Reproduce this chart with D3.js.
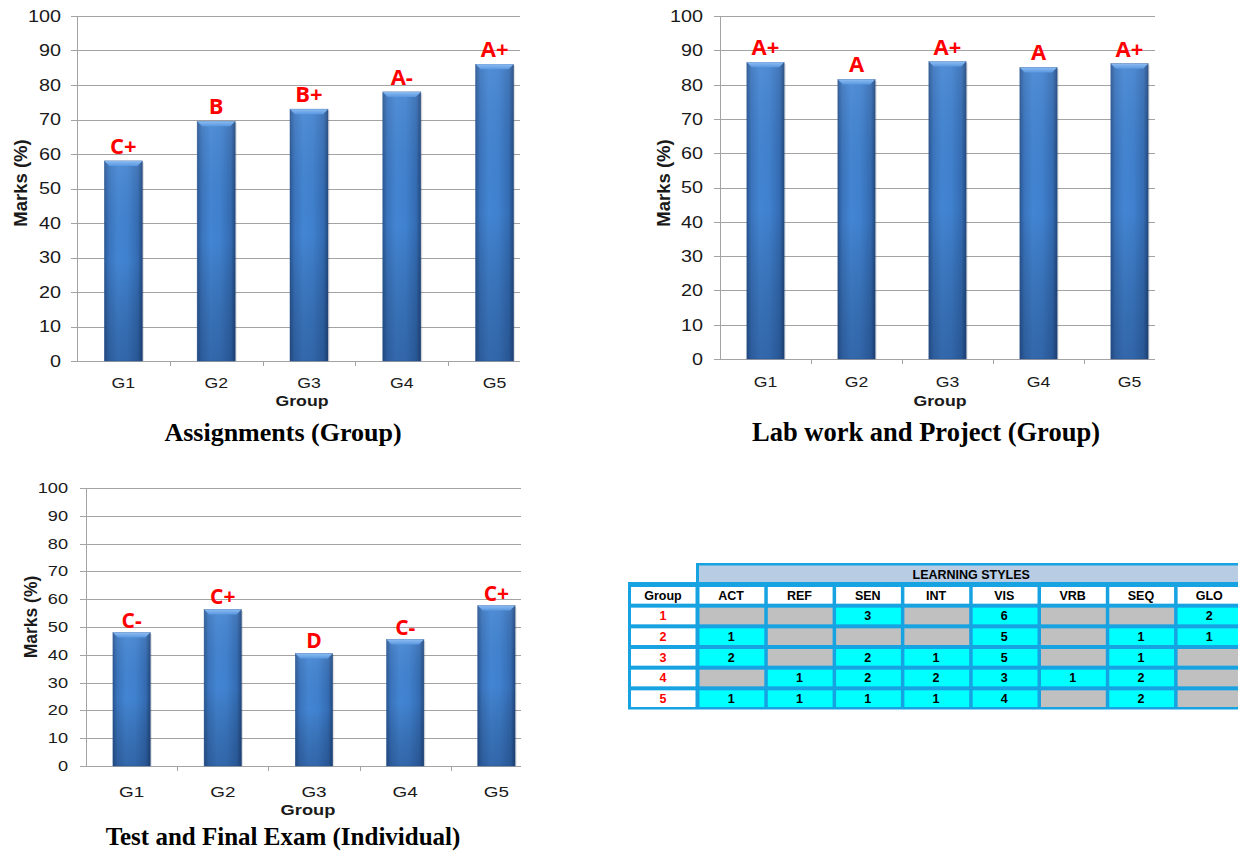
<!DOCTYPE html>
<html>
<head>
<meta charset="utf-8">
<script src="https://cdn.jsdelivr.net/npm/d3@7"></script>
<style>
  html, body { margin: 0; padding: 0; background: #ffffff; }
  svg { display: block; }
</style>
</head>
<body>
<svg id="chart" width="1238" height="851"></svg>
<script>
// ---------------- DATA ----------------
const groups = ['G1', 'G2', 'G3', 'G4', 'G5'];
const yTicks = [0, 10, 20, 30, 40, 50, 60, 70, 80, 90, 100];

const assignMarks = [58, 69.5, 73, 78, 86];
const assignGrades = ['C+', 'B', 'B+', 'A-', 'A+'];

const labMarks = [86.5, 81.5, 86.7, 85, 86.1];
const labGrades = ['A+', 'A', 'A+', 'A', 'A+'];

const examMarks = [48, 56.3, 40.5, 45.5, 57.7];
const examGrades = ['C-', 'C+', 'D', 'C-', 'C+'];

const chartTitles = ['Assignments (Group)', 'Lab work and Project (Group)', 'Test and Final Exam (Individual)'];

const styles = ['ACT', 'REF', 'SEN', 'INT', 'VIS', 'VRB', 'SEQ', 'GLO'];
const tableGroups = ['1', '2', '3', '4', '5'];
const group1Counts = [null, null, 3, null, 6, null, null, 2];
const group2Counts = [1, null, null, null, 5, null, 1, 1];
const group3Counts = [2, null, 2, 1, 5, null, 1, null];
const group4Counts = [null, 1, 2, 2, 3, 1, 2, null];
const group5Counts = [1, 1, 1, 1, 4, null, 2, null];
const styleCounts = [group1Counts, group2Counts, group3Counts, group4Counts, group5Counts];

// ---------------- SETUP ----------------
const svg = d3.select('#chart');
const defs = svg.append('defs');

const gH = defs.append('linearGradient').attr('id', 'barH').attr('x1', 0).attr('x2', 1).attr('y1', 0).attr('y2', 0);
[[0, '#2a5895'], [0.12, '#3a74bd'], [0.35, '#4385d3'], [0.6, '#4081cf'], [0.88, '#346cb3'], [1, '#22497f']]
  .forEach(([o, c]) => gH.append('stop').attr('offset', o).attr('stop-color', c));

const gV = defs.append('linearGradient').attr('id', 'barV').attr('x1', 0).attr('x2', 0).attr('y1', 0).attr('y2', 1);
[[0, 'rgba(255,255,255,0.08)'], [0.5, 'rgba(0,0,0,0)'], [1, 'rgba(10,30,70,0.28)']]
  .forEach(([o, c]) => gV.append('stop').attr('offset', o).attr('stop-color', c));

const gTop = defs.append('linearGradient').attr('id', 'barTop').attr('x1', 0).attr('x2', 0).attr('y1', 0).attr('y2', 1);
[[0, '#8cbcf2'], [1, '#5a98e0']].forEach(([o, c]) => gTop.append('stop').attr('offset', o).attr('stop-color', c));

const tickFont = '"Liberation Sans", Arial, sans-serif';

function drawChart(cfg) {
  const g = svg.append('g');
  const x = d3.scaleBand().domain(groups).range([cfg.left, cfg.bandRight]).paddingInner(0.59).paddingOuter(0.295);
  const xTicks = d3.scaleBand().domain(groups).range([cfg.left, cfg.bandRight]);
  const y = d3.scaleLinear().domain([0, 100]).range([cfg.bottom, cfg.top]);

  // gridlines
  g.append('g').selectAll('line').data(yTicks).join('line')
    .attr('x1', cfg.left - 6).attr('x2', cfg.gridRight)
    .attr('y1', d => Math.round(y(d)) + 0.5).attr('y2', d => Math.round(y(d)) + 0.5)
    .attr('stroke', '#a3a3a3').attr('stroke-width', 1);

  // y axis line
  g.append('line').attr('x1', cfg.left + 0.5).attr('x2', cfg.left + 0.5)
    .attr('y1', y(100)).attr('y2', y(0)).attr('stroke', '#a3a3a3');

  // x tick marks at band boundaries
  g.append('g').selectAll('line').data(groups.slice(1)).join('line')
    .attr('x1', d => Math.round(xTicks(d)) + 0.5).attr('x2', d => Math.round(xTicks(d)) + 0.5)
    .attr('y1', y(0)).attr('y2', y(0) + 5).attr('stroke', '#a3a3a3');

  // y tick labels (horizontally stretched like the original)
  g.append('g').selectAll('text').data(yTicks).join('text')
    .attr('transform', d => `translate(${cfg.left - cfg.tickGap},${y(d)}) scale(${cfg.tickStretch},1)`)
    .attr('dy', '0.36em').attr('text-anchor', 'end')
    .attr('font-family', tickFont).attr('font-size', cfg.tickSize).attr('fill', '#1a1a1a')
    .text(d => d);

  // x tick labels
  g.append('g').selectAll('text').data(groups).join('text')
    .attr('transform', d => `translate(${x(d) + x.bandwidth() / 2},${cfg.xLabelY}) scale(1.22,1)`)
    .attr('text-anchor', 'middle')
    .attr('font-family', tickFont).attr('font-size', cfg.xSize).attr('fill', '#1a1a1a')
    .text(d => d);

  // bars
  const data = groups.map((gname, i) => ({ g: gname, v: cfg.values[i], grade: cfg.grades[i] }));
  const bars = g.append('g').selectAll('g').data(data).join('g');
  const bw = x.bandwidth();
  bars.append('rect')
    .attr('x', d => x(d.g) + 1.5).attr('y', d => y(d.v) + 1.5)
    .attr('width', bw).attr('height', d => y(0) - y(d.v) - 1.5)
    .attr('fill', 'rgba(0,0,0,0.12)');
  bars.append('rect')
    .attr('x', d => x(d.g)).attr('y', d => y(d.v))
    .attr('width', bw).attr('height', d => y(0) - y(d.v))
    .attr('fill', 'url(#barH)');
  bars.append('rect')
    .attr('x', d => x(d.g)).attr('y', d => y(d.v))
    .attr('width', bw).attr('height', d => y(0) - y(d.v))
    .attr('fill', 'url(#barV)')
    .attr('stroke', '#26508a').attr('stroke-width', 0.6).attr('stroke-opacity', 0.7);
  const bev = 5;
  bars.append('path')
    .attr('d', d => {
      const x0 = x(d.g), x1 = x0 + bw, y0 = y(d.v);
      return `M${x0},${y0}L${x1},${y0}L${x1 - bev},${y0 + bev}L${x0 + bev},${y0 + bev}Z`;
    })
    .attr('fill', 'url(#barTop)');

  // grade labels
  bars.append('text')
    .attr('x', d => x(d.g) + bw / 2).attr('y', d => y(d.v) - cfg.gradeGap)
    .attr('text-anchor', 'middle')
    .attr('font-family', '"Open Sans", "Noto Sans", sans-serif').attr('font-weight', 'bold')
    .attr('font-size', cfg.gradeSize).attr('fill', '#ff0000')
    .text(d => d.grade);

  // axis titles
  g.append('text')
    .attr('transform', `translate(${cfg.yTitleX},${cfg.yTitleY}) rotate(-90)`)
    .attr('text-anchor', 'middle').attr('font-family', tickFont).attr('font-weight', 'bold')
    .attr('font-size', cfg.yTitleSize).attr('fill', '#1a1a1a').text('Marks (%)');
  g.append('text')
    .attr('transform', `translate(${cfg.xTitleX},${cfg.xTitleY}) scale(1.22,1)`)
    .attr('text-anchor', 'middle').attr('font-family', tickFont).attr('font-weight', 'bold')
    .attr('font-size', cfg.xTitleSize).attr('fill', '#1a1a1a').text('Group');

  // caption
  g.append('text')
    .attr('x', cfg.captionX).attr('y', cfg.captionY)
    .attr('text-anchor', 'middle')
    .attr('font-family', '"Liberation Serif", "Times New Roman", serif').attr('font-weight', 'bold')
    .attr('font-size', cfg.captionSize).attr('fill', '#000').text(cfg.caption);
}

drawChart({
  values: assignMarks, grades: assignGrades, caption: chartTitles[0],
  left: 77, bandRight: 541, gridRight: 520, top: 16, bottom: 361,
  tickGap: 16, tickSize: 16.5, tickStretch: 1.2, xSize: 14.5, xLabelY: 388, gradeGap: 7, gradeSize: 22,
  yTitleX: 27, yTitleY: 183, yTitleSize: 18.5, xTitleX: 302, xTitleY: 406, xTitleSize: 14.5,
  captionX: 283, captionY: 441, captionSize: 26
});

drawChart({
  values: labMarks, grades: labGrades, caption: chartTitles[1],
  left: 720, bandRight: 1175, gridRight: 1155, top: 16, bottom: 359,
  tickGap: 17, tickSize: 16.5, tickStretch: 1.2, xSize: 14.5, xLabelY: 387, gradeGap: 7, gradeSize: 22,
  yTitleX: 670, yTitleY: 183, yTitleSize: 18.5, xTitleX: 940, xTitleY: 406, xTitleSize: 14.5,
  captionX: 926, captionY: 441, captionSize: 26.5
});

drawChart({
  values: examMarks, grades: examGrades, caption: chartTitles[2],
  left: 86, bandRight: 542, gridRight: 521, top: 488, bottom: 766,
  tickGap: 18, tickSize: 14, tickStretch: 1.3, xSize: 15.5, xLabelY: 797, gradeGap: 5, gradeSize: 21,
  yTitleX: 37, yTitleY: 617, yTitleSize: 17.5, xTitleX: 308, xTitleY: 815, xTitleSize: 15,
  captionX: 283, captionY: 845, captionSize: 25
});

// ---------------- TABLE ----------------
const tblBlue = '#17a2e2';
const tableFont = '"Liberation Sans Narrow", "Arial Narrow", "Liberation Sans", Arial, sans-serif';
const tg = svg.append('g');
const colX = d3.scaleBand().domain(styles).range([697, 697 + 8 * 68.3]);
const rowKeys = ['hdr'].concat(tableGroups);
const rowY = d3.scaleBand().domain(rowKeys).range([584.5, 708.5]);

// header "LEARNING STYLES"
tg.append('rect').attr('x', 696).attr('y', 563).attr('width', 1238 - 696 + 10).attr('height', 23).attr('fill', tblBlue);
tg.append('rect').attr('x', 699).attr('y', 565.5).attr('width', 1238 - 699 + 10).attr('height', 18).attr('fill', '#b8cce4');
tg.append('text').attr('x', (699 + colX.range()[1]) / 2).attr('y', 575).attr('dy', '0.35em')
  .attr('text-anchor', 'middle').attr('font-family', tableFont).attr('font-weight', 'bold')
  .attr('font-size', 12.5).attr('fill', '#000').text('LEARNING STYLES');

// main grid background
tg.append('rect').attr('x', 628).attr('y', 582).attr('width', 1238 - 628 + 10).attr('height', 127.5).attr('fill', tblBlue);

// group column
tg.selectAll('rect.gcell').data(rowKeys).join('rect').attr('class', 'gcell')
  .attr('x', 631).attr('y', d => rowY(d) + 2.5).attr('width', 64.5).attr('height', rowY.bandwidth() - 4)
  .attr('fill', '#ffffff');
tg.selectAll('text.gtext').data(rowKeys).join('text').attr('class', 'gtext')
  .attr('x', 663).attr('y', d => rowY(d) + rowY.bandwidth() / 2 + 0.5).attr('dy', '0.35em')
  .attr('text-anchor', 'middle').attr('font-family', tableFont).attr('font-weight', 'bold')
  .attr('font-size', 12.5).attr('fill', d => d === 'hdr' ? '#000' : '#ff0000')
  .text(d => d === 'hdr' ? 'Group' : d);

// column headers
tg.selectAll('rect.chead').data(styles).join('rect').attr('class', 'chead')
  .attr('x', d => colX(d) + 2.5).attr('y', rowY('hdr') + 2.5)
  .attr('width', colX.bandwidth() - 3.5).attr('height', rowY.bandwidth() - 4).attr('fill', '#ffffff');
tg.selectAll('text.chead').data(styles).join('text').attr('class', 'chead')
  .attr('x', d => colX(d) + colX.bandwidth() / 2).attr('y', rowY('hdr') + rowY.bandwidth() / 2 + 0.5)
  .attr('dy', '0.35em').attr('text-anchor', 'middle').attr('font-family', tableFont).attr('font-weight', 'bold')
  .attr('font-size', 12.5).attr('fill', '#000').text(d => d);

// data cells
const cells = [];
tableGroups.forEach((gk, r) => styles.forEach((s, c) => cells.push({ g: gk, s: s, v: styleCounts[r][c] })));
tg.selectAll('rect.cell').data(cells).join('rect').attr('class', 'cell')
  .attr('x', d => colX(d.s) + 2.5).attr('y', d => rowY(d.g) + 2.5)
  .attr('width', colX.bandwidth() - 3.5).attr('height', rowY.bandwidth() - 4)
  .attr('fill', d => d.v == null ? '#c0c0c0' : '#00ffff');
tg.selectAll('text.cell').data(cells.filter(d => d.v != null)).join('text').attr('class', 'cell')
  .attr('x', d => colX(d.s) + colX.bandwidth() / 2).attr('y', d => rowY(d.g) + rowY.bandwidth() / 2 + 0.5)
  .attr('dy', '0.35em').attr('text-anchor', 'middle').attr('font-family', tableFont).attr('font-weight', 'bold')
  .attr('font-size', 12.5).attr('fill', '#000').text(d => d.v);
</script>
</body>
</html>
